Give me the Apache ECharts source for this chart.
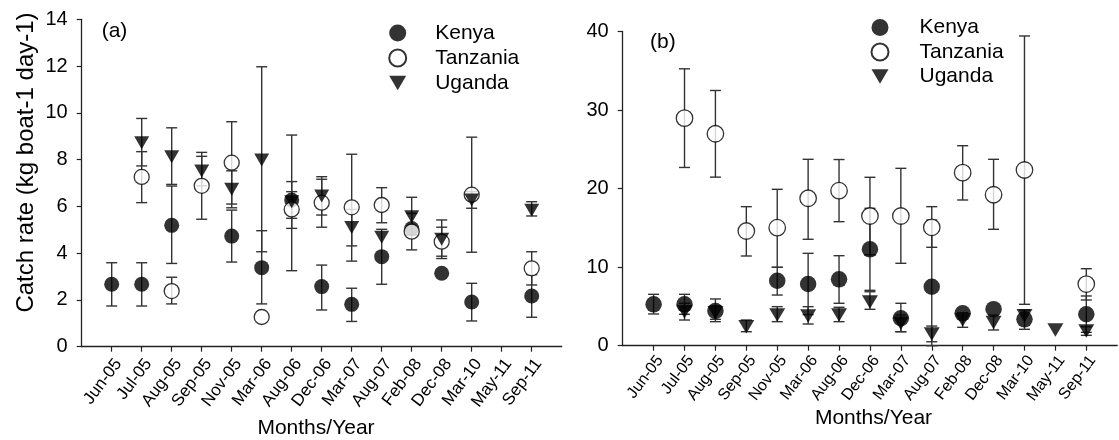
<!DOCTYPE html>
<html><head><meta charset="utf-8">
<script src="https://cdn.jsdelivr.net/npm/echarts@6/dist/echarts.min.js"></script>
<style>html,body{margin:0;padding:0;background:#fff}#c{width:1119px;height:440px}</style>
</head><body><div id="c"></div>
<script>
const months = ['Jun-05','Jul-05','Aug-05','Sep-05','Nov-05','Mar-06','Aug-06','Dec-06','Mar-07','Aug-07','Feb-08','Dec-08','Mar-10','May-11','Sep-11'];
const countries = ['Kenya','Tanzania','Uganda'];

// Panel (a)
const kenyaA      = [2.67, 2.67, 5.19, null, 4.73, 3.38, 6.27, 2.57, 1.81, 3.85, 5.05, 3.14, 1.91, null, 2.17];
const kenyaALow   = [1.74, 1.74, 3.56, null, 3.62, 1.83, 5.49, 1.57, 1.08, 2.67, null, null, 1.10, null, 1.26];
const kenyaAHigh  = [3.59, 3.59, 6.87, null, 5.84, 4.96, 7.06, 3.49, 2.50, 5.02, null, null, 2.71, null, 3.08];
const tanzaniaA     = [null, 7.26, 2.38, 6.88, 7.87, 1.27, 5.87, 6.16, 5.96, 6.06, 4.92, 4.49, 6.50, null, 3.35];
const tanzaniaALow  = [null, 6.16, 1.83, 5.45, 6.10, null, 5.06, 5.11, 3.66, 5.30, 4.14, 3.87, 4.04, null, 2.64];
const tanzaniaAHigh = [null, 8.34, 2.97, 8.31, 9.62, null, 6.63, 7.16, 8.23, 6.80, 5.70, 5.11, 8.96, null, 4.06];
const ugandaA     = [null, 8.72, 8.12, 7.51, 6.73, 7.98, 6.20, 6.44, 5.10, 4.68, 5.56, 4.59, 6.27, null, 5.84];
const ugandaALow  = [null, 7.73, 6.94, 6.88, 5.94, 4.06, 3.25, 5.63, 4.31, null, 4.78, 3.77, 5.92, null, 5.59];
const ugandaAHigh = [null, 9.76, 9.36, 8.14, 7.52, 11.97, 9.05, 7.27, 5.87, null, 6.39, 5.42, 6.63, null, 6.20];

// Panel (b)
const kenyaB      = [5.27, 5.27, 4.42, null, 8.27, 7.86, 8.45, 12.27, 3.49, 7.51, 4.12, 4.65, 3.36, null, 4.00];
const kenyaBLow   = [4.04, 4.00, 3.06, null, 6.45, 3.96, 5.40, 7.05, 1.78, 0.00, null, null, 2.09, null, 1.70];
const kenyaBHigh  = [6.54, 6.54, 5.95, null, 9.98, 11.76, 11.46, 17.49, 5.40, 16.00, null, null, 4.54, null, 6.33];
const tanzaniaB     = [null, 28.97, 26.98, 14.60, 15.02, 18.77, 19.73, 16.51, 16.51, 15.07, 22.03, 19.22, 22.37, null, 7.85];
const tanzaniaBLow  = [null, 22.69, 21.46, 11.42, 9.98, 13.55, 15.79, 11.58, 10.49, 12.53, 18.55, 14.82, 5.27, null, 5.82];
const tanzaniaBHigh = [null, 35.25, 32.49, 17.70, 19.91, 23.73, 23.70, 21.44, 22.58, 17.70, 25.46, 23.73, 39.43, null, 9.80];
const ugandaB     = [null, 4.33, 4.20, 2.42, 3.91, 3.78, 3.91, 5.55, 2.85, 1.49, 3.27, 2.95, 3.80, 2.00, 1.87];
const ugandaBLow  = [null, 3.27, 3.36, 1.78, 3.06, 2.76, 3.06, 4.63, 1.78, 0.50, 2.34, 2.00, null, null, 1.32];
const ugandaBHigh = [null, 5.40, 5.09, 3.27, 4.97, 4.97, 4.89, 6.87, 3.92, 2.50, 4.20, 3.90, null, null, 2.42];

const yTicksA = {min: 0, max: 14, interval: 2};
const yTicksB = {min: 0, max: 40, interval: 10};

const FONT = 'Liberation Sans, Arial, sans-serif';
const axisCats = [''].concat(months, ['']);

function pts(vals) { return vals.map((v, i) => v == null ? null : [i + 1, v]).filter(Boolean); }
function bars(lo, hi) { return lo.map((l, i) => (l == null || hi[i] == null) ? null : [i + 1, l, hi[i]]).filter(Boolean); }

function renderBar(params, api) {
  const x = api.value(0);
  const p1 = api.coord([x, api.value(1)]);
  const p2 = api.coord([x, api.value(2)]);
  const w = 5.5;
  const st = {stroke: '#333', lineWidth: 1.4};
  return {type: 'group', children: [
    {type: 'line', shape: {x1: p1[0], y1: p1[1], x2: p2[0], y2: p2[1]}, style: st},
    {type: 'line', shape: {x1: p1[0] - w, y1: p1[1], x2: p1[0] + w, y2: p1[1]}, style: st},
    {type: 'line', shape: {x1: p2[0] - w, y1: p2[1], x2: p2[0] + w, y2: p2[1]}, style: st}
  ]};
}

function panelSeries(idx, data, circleSize, triSize) {
  const styles = {
    Kenya: {symbol: 'circle', symbolSize: circleSize, itemStyle: {color: '#000'}},
    Tanzania: {symbol: 'circle', symbolSize: circleSize, itemStyle: {color: '#fff', borderColor: '#000', borderWidth: 1.3}},
    Uganda: {symbol: 'triangle', symbolRotate: 180, symbolSize: triSize, itemStyle: {color: '#000'}}
  };
  const out = [];
  data.forEach(d => {
    out.push({type: 'custom', name: d.name + ' error', xAxisIndex: idx, yAxisIndex: idx,
      renderItem: renderBar, data: bars(d.lo, d.hi), encode: {x: 0, y: [1, 2]}, silent: true, clip: false});
    out.push(Object.assign({type: 'scatter', name: d.name, xAxisIndex: idx, yAxisIndex: idx,
      data: pts(d.v), emphasis: {disabled: true}}, styles[d.name]));
  });
  return out;
}

function xAxis(gi, fs, mg) {
  return {type: 'category', gridIndex: gi, data: axisCats, boundaryGap: false,
    axisLine: {lineStyle: {color: '#222', width: 1.3}},
    axisTick: {length: 5, interval: (i) => i > 0 && i < 16, lineStyle: {color: '#222', width: 1.2}},
    axisLabel: {rotate: 53, fontSize: fs, margin: mg, interval: 0, color: '#000', fontFamily: FONT,
      align: 'right', verticalAlign: 'top'},
    splitLine: {show: false}};
}
function yAxis(gi, t) {
  return {type: 'value', gridIndex: gi, min: t.min, max: t.max, interval: t.interval,
    axisLine: {show: true, lineStyle: {color: '#222', width: 1.3}},
    axisTick: {show: true, length: 5, lineStyle: {color: '#222', width: 1.2}},
    axisLabel: {fontSize: 20, margin: 14, color: '#000', fontFamily: FONT},
    splitLine: {show: false}};
}

const invTri = 'path://M0,0 L20,0 L10,17 Z';
const legendData = [{name: 'Kenya'}, {name: 'Tanzania'}, {name: 'Uganda', icon: invTri}];
const legendBase = {data: legendData, orient: 'vertical', itemWidth: 17, itemHeight: 17, itemGap: 4,
  selectedMode: false,
  textStyle: {fontSize: 21, color: '#000', fontFamily: FONT, lineHeight: 21, padding: [0, 0, 0, 24]}};

const option = {
  animation: false,
  backgroundColor: '#fff',
  grid: [
    {left: 81.7, top: 19.3, width: 480, height: 327.4},
    {left: 622.7, top: 31.5, width: 512, height: 314.2}
  ],
  xAxis: [xAxis(0, 17, 9), xAxis(1, 16, 7)],
  yAxis: [yAxis(0, yTicksA), yAxis(1, yTicksB)],
  legend: [
    Object.assign({}, legendBase, {left: 383.2, top: 17.5}),
    Object.assign({}, legendBase, {left: 865.5, top: 12, itemGap: 3.5,
      textStyle: Object.assign({}, legendBase.textStyle, {padding: [0, 0, 0, 26]})})
  ],
  graphic: [
    {type: 'text', x: 101.7, y: 31.7, style: {text: '(a)', font: '21px ' + FONT, fill: '#000', align: 'left', verticalAlign: 'middle'}},
    {type: 'text', x: 650, y: 42.7, style: {text: '(b)', font: '21px ' + FONT, fill: '#000', align: 'left', verticalAlign: 'middle'}},
    {type: 'text', x: 26, y: 162.5, rotation: Math.PI / 2, style: {text: 'Catch rate (kg boat-1 day-1)', font: '24px ' + FONT, fill: '#000', align: 'center', verticalAlign: 'middle'}},
    {type: 'text', x: 316, y: 428, style: {text: 'Months/Year', font: '21px ' + FONT, fill: '#000', align: 'center', verticalAlign: 'middle'}},
    {type: 'text', x: 873.5, y: 418, style: {text: 'Months/Year', font: '21px ' + FONT, fill: '#000', align: 'center', verticalAlign: 'middle'}}
  ],
  series: [].concat(
    panelSeries(0, [
      {name: 'Kenya', v: kenyaA, lo: kenyaALow, hi: kenyaAHigh},
      {name: 'Tanzania', v: tanzaniaA, lo: tanzaniaALow, hi: tanzaniaAHigh},
      {name: 'Uganda', v: ugandaA, lo: ugandaALow, hi: ugandaAHigh}
    ], 15, [15, 13]),
    panelSeries(1, [
      {name: 'Kenya', v: kenyaB, lo: kenyaBLow, hi: kenyaBHigh},
      {name: 'Tanzania', v: tanzaniaB, lo: tanzaniaBLow, hi: tanzaniaBHigh},
      {name: 'Uganda', v: ugandaB, lo: ugandaBLow, hi: ugandaBHigh}
    ], 16.5, [16, 13.5])
  )
};

const chart = echarts.init(document.getElementById('c'), null, {renderer: 'canvas'});
chart.setOption(option);
</script></body></html>
